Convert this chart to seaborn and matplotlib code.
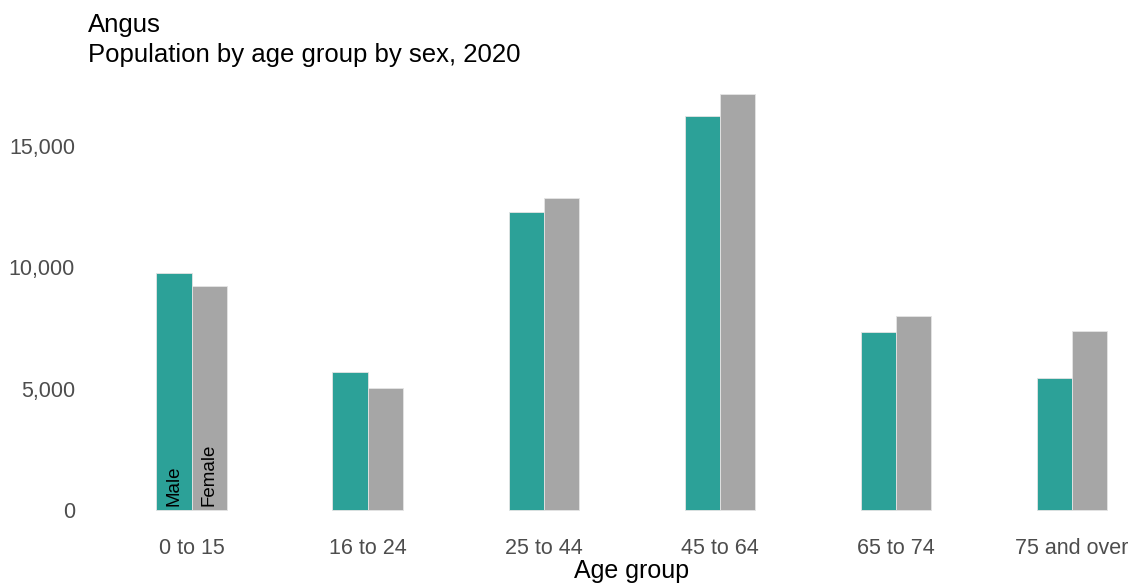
import pandas as pd
import matplotlib
matplotlib.use("Agg")
import matplotlib.pyplot as plt
import seaborn as sns
from matplotlib.ticker import FuncFormatter

# values
age_groups = ["0 to 15", "16 to 24", "25 to 44", "45 to 64", "65 to 74", "75 and over"]
male = [9750, 5680, 12260, 16230, 7345, 5450]
female = [9240, 5010, 12860, 17125, 7990, 7385]
sexes = ["Male", "Female"]
colours = {"Male": "#2ca198", "Female": "#a6a6a6"}

df = pd.DataFrame({
    "age_group": age_groups * 2,
    "sex": ["Male"] * len(age_groups) + ["Female"] * len(age_groups),
    "population": male + female,
})

sns.set_style("white")
plt.rcParams["font.family"] = ["Liberation Sans", "DejaVu Sans"]

fig = plt.figure(figsize=(11.37, 5.83), dpi=100)
ax = fig.add_axes([86 / 1137, 0.0897, 1 - 86 / 1137, 0.7842])

sns.barplot(data=df, x="age_group", y="population", hue="sex",
            order=age_groups, hue_order=sexes, palette=colours,
            saturation=1, width=0.4, gap=0, edgecolor="#e4e4e4",
            linewidth=0.6, legend=False, ax=ax)

top = max(male + female)
ax.set_ylim(-0.05 * top, 1.05 * top)
ax.set_xlim(-0.6, len(age_groups) - 1 + 0.37)
ax.set_yticks([0, 5000, 10000, 15000])
ax.yaxis.set_major_formatter(FuncFormatter(lambda v, p: f"{int(v):,}"))
ax.tick_params(axis="both", length=0, labelsize=15.5, labelcolor="#4d4d4d")
ax.tick_params(axis="y", pad=8)
ax.tick_params(axis="x", pad=5)
sns.despine(ax=ax, left=True, bottom=True)
ax.set_ylabel("")
ax.set_xlabel("Age group", fontsize=18, color="black")
# the original panel runs past the right edge, so its label sits right of centre
ax.xaxis.set_label_coords(0.519, -0.062)

# label the first pair of bars with the sex, as in the original
for cont, name in zip(ax.containers, sexes):
    bar = cont[0]
    ax.annotate(name, (bar.get_x() + bar.get_width() / 2, 0),
                xytext=(0, 3), textcoords="offset points", rotation=90,
                ha="center", va="bottom", fontsize=13.5, color="black")

fig.text(88 / 1137, 1 - 32 / 583, "Angus", fontsize=18.5, va="baseline",
         color="black")
fig.text(88 / 1137, 1 - 62 / 583, "Population by age group by sex, 2020",
         fontsize=18.5, va="baseline", color="black")

fig.savefig("out.png", dpi=100)
